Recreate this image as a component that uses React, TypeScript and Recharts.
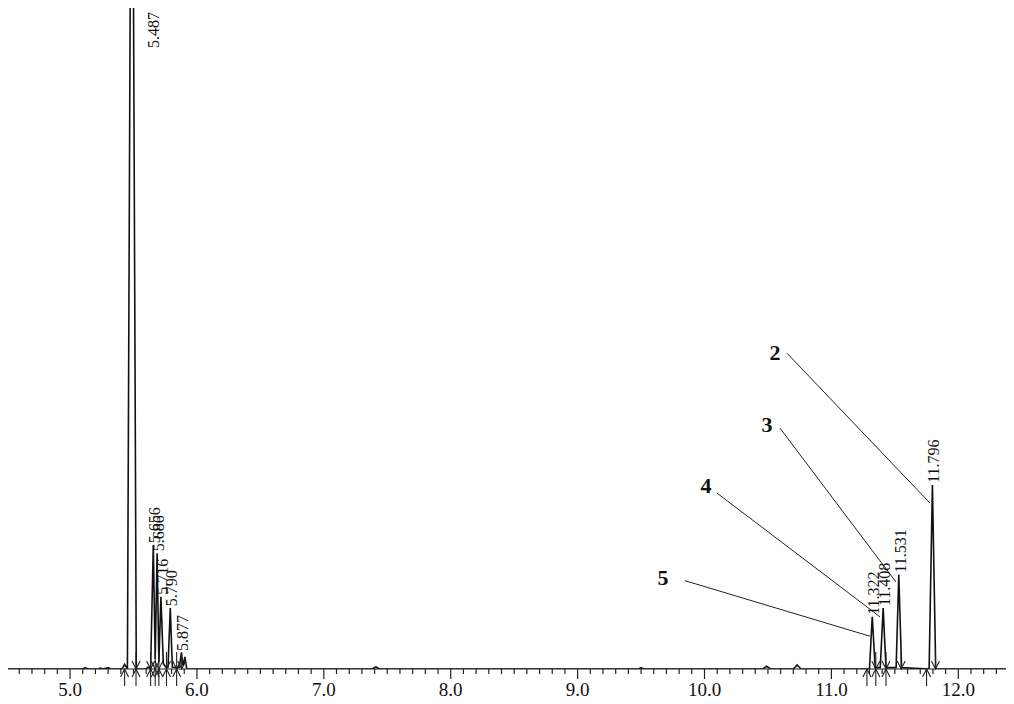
import React from 'react'
import {
  ComposedChart,
  Line,
  Scatter,
  XAxis,
  YAxis,
  ReferenceLine,
} from 'recharts'

// retention time (min) / detector response (% of full scale)
const traceTimes = [
  4.51, 5.1, 5.12, 5.14, 5.22, 5.24, 5.26, 5.3, 5.32, 5.34, 5.41, 5.43, 5.452,
  5.487, 5.522, 5.6, 5.615, 5.635, 5.656, 5.671, 5.686, 5.7, 5.716, 5.735,
  5.75, 5.772, 5.79, 5.806, 5.84, 5.862, 5.877, 5.89, 5.905, 5.92, 7.38, 7.41,
  7.44, 9.48, 9.5, 9.52, 10.46, 10.49, 10.52, 10.7, 10.73, 10.76, 11.3,
  11.322, 11.345, 11.385, 11.408, 11.43, 11.51, 11.531, 11.553, 11.77, 11.796,
  11.822, 12.44,
]
const traceValues = [
  0, 0, 0.2, 0, 0, 0.15, 0, 0.2, 0, 0, 0, 0.7, 0,
  160, 0, 0, 0.3, 0, 18.5, 1.5, 17.3, 1.0, 10.8, 0.8,
  0.4, 0.3, 9.1, 0.3, 0.2, 0.3, 2.4, 0.5, 1.8, 0, 0, 0.3,
  0, 0, 0.2, 0, 0, 0.4, 0, 0, 0.6, 0, 0,
  7.8, 0.2, 0.2, 9.1, 0.2, 0.2, 14.1, 0.2, 0, 27.5,
  0, 0,
]

const peakTimes = [5.487, 5.656, 5.686, 5.716, 5.79, 5.877, 11.322, 11.408, 11.531, 11.796]
const peakHeights = [160, 18.5, 17.3, 10.8, 9.1, 2.4, 7.8, 9.1, 14.1, 27.5]

// integration marks: peak start (arrow from below) and peak end (arrow from above)
const startMarks = [5.43, 5.52, 5.635, 5.671, 5.7, 5.76, 5.84, 11.28, 11.35, 11.43, 11.75]
const endMarks = [5.52, 5.635, 5.671, 5.7, 5.76, 5.84, 5.88, 11.35, 11.43, 11.55, 11.82]

// numbered callouts: label spot, leader start, leader end (data units)
const calloutNames = ['2', '3', '4', '5']
const calloutLabel = [[10.556, 47.2], [10.493, 36.5], [10.012, 27.4], [9.673, 13.6]]
const calloutFrom = [[10.65, 47.2], [10.595, 36.0], [10.098, 26.3], [9.846, 13.2]]
const calloutTo = [[11.777, 24.8], [11.509, 13.0], [11.383, 7.8], [11.304, 4.9]]

const majorTicks = [5, 6, 7, 8, 9, 10, 11, 12]
const allTicks = Array.from({ length: 79 }, (_, i) => Math.round((4.6 + i * 0.1) * 10) / 10)

const trace = traceTimes.map((t, i) => ({ t, v: traceValues[i] }))
const peaks = peakTimes.map((t, i) => ({ t, v: peakHeights[i], label: t.toFixed(3) }))
const starts = startMarks.map((t) => ({ t, v: 0 }))
const ends = endMarks.map((t) => ({ t, v: 0 }))
const callouts = calloutNames.map((name, i) => ({ t: calloutLabel[i][0], v: calloutLabel[i][1], name }))

const FONT = '"Liberation Serif", "Times New Roman", serif'

const AxisTick = (props: any) => {
  const { x, y, payload } = props
  const major = majorTicks.some((m) => Math.abs(m - payload.value) < 1e-6)
  return (
    <g>
      <line x1={x} x2={x} y1={y} y2={y + (major ? 10 : 5)} stroke="#222" strokeWidth={1.2} />
      {major && (
        <text x={x} y={y + 27} textAnchor="middle" fontFamily={FONT} fontSize={19} fill="#111">
          {payload.value.toFixed(1)}
        </text>
      )}
    </g>
  )
}

const StartMark = (props: any) => {
  const { cx, cy } = props
  return (
    <g stroke="#222" strokeWidth={1.1} fill="none">
      <line x1={cx} x2={cx} y1={cy} y2={cy + 17} />
      <polyline points={`${cx - 4},${cy + 8} ${cx},${cy} ${cx + 4},${cy + 8}`} />
    </g>
  )
}

const EndMark = (props: any) => {
  const { cx, cy } = props
  return (
    <g stroke="#222" strokeWidth={1.1} fill="none">
      <line x1={cx} x2={cx} y1={cy - 17} y2={cy} />
      <polyline points={`${cx - 4},${cy - 8} ${cx},${cy} ${cx + 4},${cy - 8}`} />
    </g>
  )
}

const PeakLabel = (props: any) => {
  const { cx, cy, payload } = props
  const offScale = cy < 50
  const x = offScale ? cx + 27 : cx + 7
  const y = offScale ? 48 : cy - 2
  return (
    <text
      x={x}
      y={y}
      transform={`rotate(-90, ${x}, ${y})`}
      fontFamily={FONT}
      fontSize={16}
      fill="#111"
    >
      {payload.label}
    </text>
  )
}

const CalloutLabel = (props: any) => {
  const { cx, cy, payload } = props
  return (
    <text x={cx} y={cy + 7} textAnchor="middle" fontFamily={FONT} fontSize={22} fontWeight="bold" fill="#111">
      {payload.name}
    </text>
  )
}

export default function App() {
  return (
    <div style={{ margin: -8, width: 1014, height: 704, background: '#fff' }}>
      <ComposedChart width={1014} height={704} margin={{ top: 0, right: 0, bottom: 0, left: 8 }}>
        <XAxis
          dataKey="t"
          type="number"
          domain={[4.511, 12.439]}
          allowDataOverflow
          ticks={allTicks}
          interval={0}
          tick={<AxisTick />}
          tickLine={false}
          tickSize={0}
          tickMargin={0}
          axisLine={{ stroke: '#222', strokeWidth: 1.2 }}
          height={35}
        />
        <YAxis yAxisId="sig" type="number" domain={[0, 100]} allowDataOverflow hide />
        <YAxis yAxisId="marks" type="number" domain={[0, 100]} hide />
        {calloutNames.map((name, i) => (
          <ReferenceLine
            key={name}
            yAxisId="sig"
            segment={[
              { x: calloutFrom[i][0], y: calloutFrom[i][1] },
              { x: calloutTo[i][0], y: calloutTo[i][1] },
            ]}
            stroke="#222"
            strokeWidth={1}
          />
        ))}
        <Line
          yAxisId="sig"
          data={trace}
          dataKey="v"
          type="linear"
          stroke="#111"
          strokeWidth={1.6}
          dot={false}
          isAnimationActive={false}
        />
        <Scatter yAxisId="marks" data={starts} dataKey="v" shape={<StartMark />} isAnimationActive={false} />
        <Scatter yAxisId="marks" data={ends} dataKey="v" shape={<EndMark />} isAnimationActive={false} />
        <Scatter yAxisId="sig" data={peaks} dataKey="v" shape={<PeakLabel />} isAnimationActive={false} />
        <Scatter yAxisId="marks" data={callouts} dataKey="v" shape={<CalloutLabel />} isAnimationActive={false} />
      </ComposedChart>
    </div>
  )
}
